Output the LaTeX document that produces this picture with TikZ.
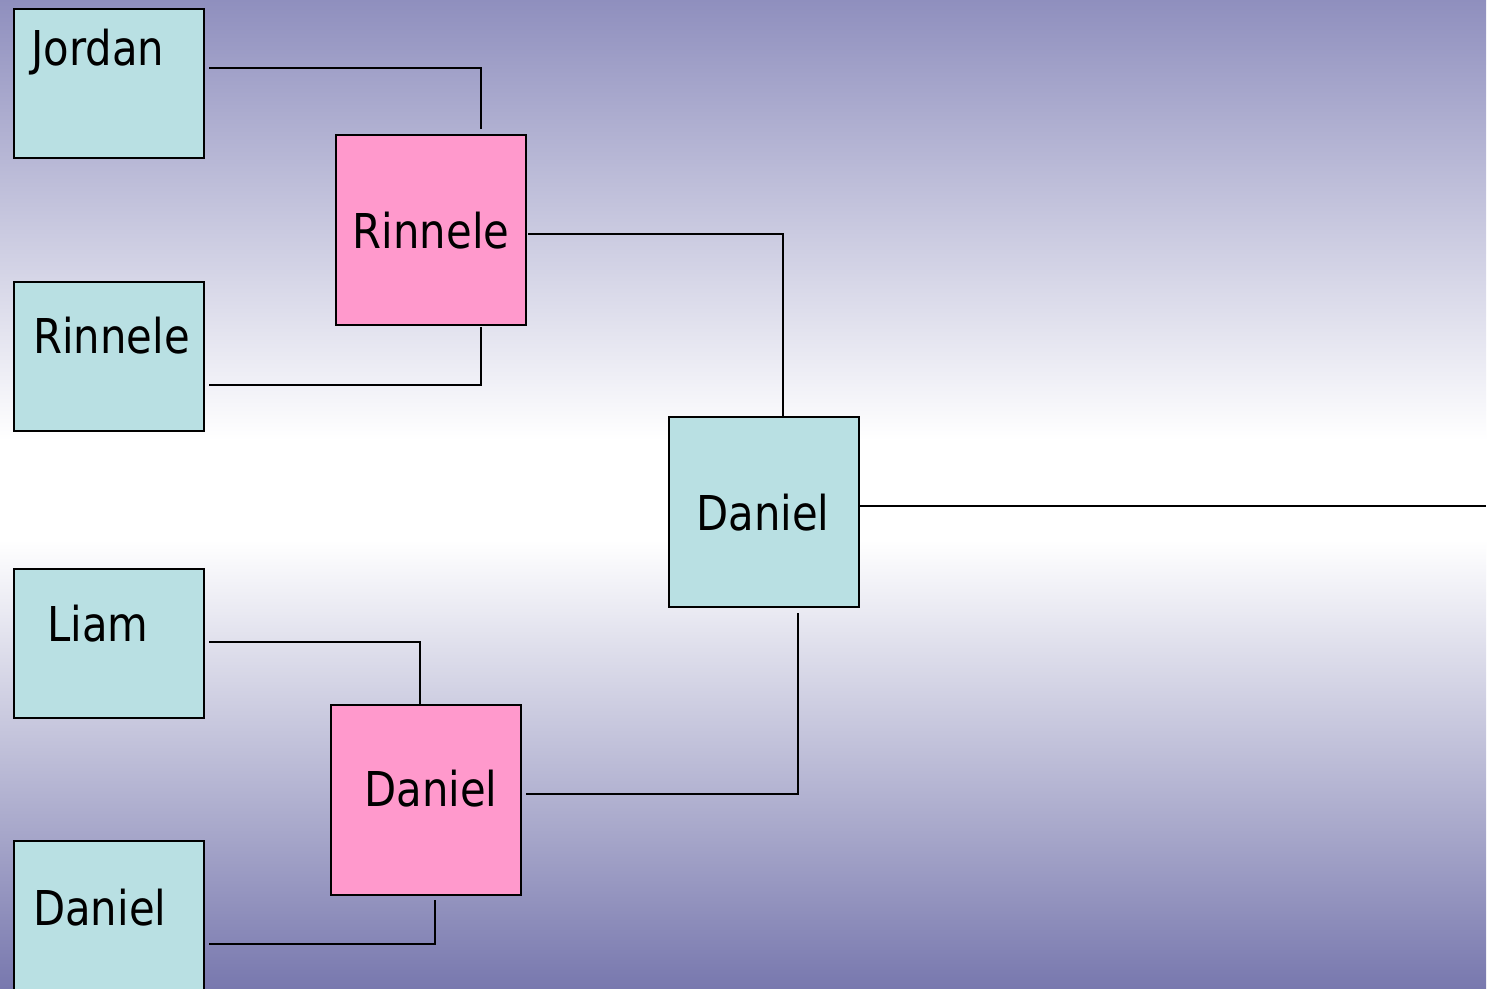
\documentclass[tikz,border=0pt]{standalone}
\usepackage{fontspec}
\setmainfont{DejaVu Sans}[FakeStretch=0.87]
\usetikzlibrary{calc}
\definecolor{bgtop}{RGB}{143,143,190}
\definecolor{bgbot}{RGB}{120,120,174}
\definecolor{cyanbox}{RGB}{185,224,227}
\definecolor{pinkbox}{RGB}{255,153,204}
\tikzset{
  cbox/.style={draw=black, line width=2pt, fill=cyanbox, minimum width=190pt, minimum height=149pt, inner sep=0pt, anchor=north west},
  pbox/.style={draw=black, line width=2pt, fill=pinkbox, minimum width=190pt, minimum height=190pt, inner sep=0pt, anchor=north west},
  sqbox/.style={pbox, fill=cyanbox},
  lbl/.style={font=\fontsize{48}{56}\selectfont, inner sep=0pt, anchor=base west},
  conn/.style={draw=black, line width=1.6pt}
}
\begin{document}
\begin{tikzpicture}[x=1pt,y=-1pt]
\useasboundingbox (0,0) rectangle (1495,988);
\fill[white] (0,0) rectangle (1495,988);
\shade[top color=bgtop, bottom color=white] (0,0) rectangle (1486,440);
\fill[white] (0,439) rectangle (1486,541);
\shade[top color=white, bottom color=bgbot] (0,540) rectangle (1486,988);

% boxes
\node[cbox] (jordan) at (13,8) {};
\node[cbox] (rinL) at (13,281) {};
\node[cbox] (liam) at (13,568) {};
\node[cbox] (danL) at (13,840) {};
\node[pbox] (rinP) at (335,134) {};
\node[pbox] (danP) at (330,704) {};
\node[sqbox] (danC) at (668,416) {};

% labels
\node[lbl] (tjordan) at ($(jordan.north west)+(18,57)$) {Jordan};
\node[lbl] (trinL) at ($(rinL.north west)+(20,72)$) {Rinnele};
\node[lbl] (tliam) at ($(liam.north west)+(34,73)$) {Liam};
\node[lbl] (tdanL) at ($(danL.north west)+(20,85)$) {Daniel};
\node[lbl, anchor=base] (trinP) at ($(rinP.north)+(0,114)$) {Rinnele};
\node[lbl, anchor=base] (tdanP) at ($(danP.north)+(5,102)$) {Daniel};
\node[lbl, anchor=base] (tdanC) at ($(danC.north)+(-1,114)$) {Daniel};

% connectors
\coordinate (final) at (1486,506);
\draw[conn] ($(jordan.north east)+(4,60)$) -| ($(rinP.north west)+(146,-5)$);
\draw[conn] ($(rinL.north east)+(4,104)$) -| ($(rinP.south west)+(146,1)$);
\draw[conn] ($(liam.north east)+(4,74)$) -| ($(danP.north west)+(90,0)$);
\draw[conn] ($(danL.north east)+(4,104)$) -| ($(danP.south west)+(105,4)$);
\draw[conn] ($(rinP.north east)+(1,100)$) -| ($(danC.north west)+(115,0)$);
\draw[conn] ($(danP.north east)+(4,90)$) -| ($(danC.south west)+(130,5)$);
\draw[conn] ($(danC.north east)+(0,90)$) -- (final);
\end{tikzpicture}
\end{document}
